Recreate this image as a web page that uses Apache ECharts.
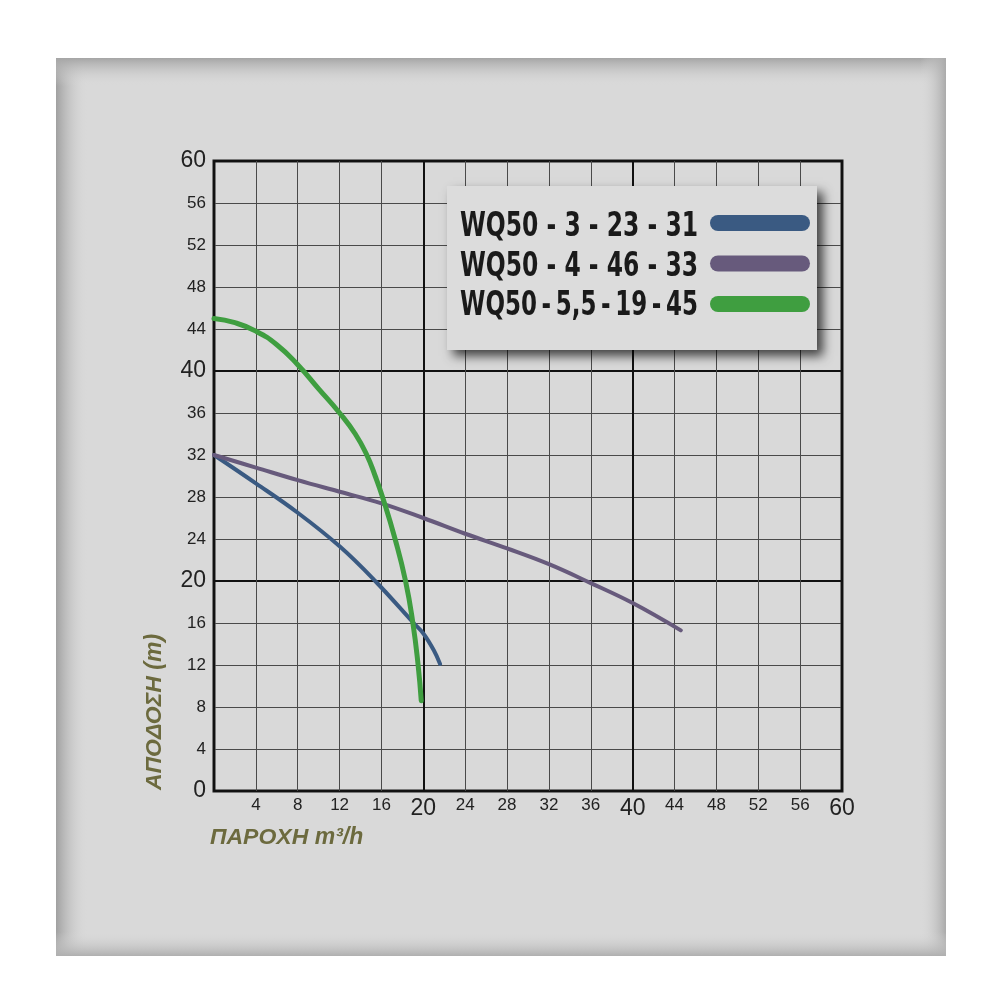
<!DOCTYPE html>
<html>
<head>
<meta charset="utf-8">
<style>html,body{margin:0;padding:0;background:#fff;}#c{width:1000px;height:1000px;}</style>
<script src="https://cdn.jsdelivr.net/npm/echarts@6/dist/echarts.min.js"></script>
</head>
<body>
<div id="c"></div>
<script>
// ---- data ----
const seriesNames = ['WQ50 - 3 - 23 - 31', 'WQ50 - 4 - 46 - 33', 'WQ50\u2009-\u20095,5\u2009-\u200919\u2009-\u200945'];
const blueX = [0, 4, 8, 12, 15.4, 19.07, 20, 21, 21.6];
const blueY = [32, 29.3, 26.5, 23.3, 20, 16, 15.0, 13.4, 12.1];
const purpleX = [0, 4, 8, 12, 16, 20, 24, 28, 32, 36, 40, 44.6];
const purpleY = [32, 30.8, 29.6, 28.5, 27.4, 26.0, 24.5, 23.1, 21.6, 19.8, 17.9, 15.3];
const greenX = [0, 2, 4, 6, 8, 10, 12, 13.5, 14.6, 15.4, 16.1, 17.3, 18.3, 19.0, 19.5, 19.8];
const greenY = [45, 44.6, 43.8, 42.5, 40.6, 38.3, 36, 34, 32, 30, 28, 24, 20, 16, 12, 8.6];
const xName = 'ΠΑΡΟΧΗ m³/h';
const yName = 'ΑΠΟΔΟΣΗ (m)';
const colors = ['#3a5a82', '#675a7c', '#3f9e40'];

function pairs(xs, ys) { return xs.map((x, i) => [x, ys[i]]); }

const chart = echarts.init(document.getElementById('c'), null, {renderer: 'canvas'});
const labelRich = {
  a: {fontSize: 17, color: '#222', fontFamily: 'Liberation Sans, Arial, sans-serif'},
  b: {fontSize: 23, color: '#222', fontFamily: 'Liberation Sans, Arial, sans-serif'}
};
function fmt(hideZero) {
  return function (v) {
    if (hideZero && v === 0) return '';
    return v % 20 === 0 ? '{b|' + v + '}' : '{a|' + v + '}';
  };
}

// legend drawn as graphic (condensed bold text)
const legendFont = 'bold 34px "DejaVu Sans Condensed", "DejaVu Sans", sans-serif';
const mctx = document.createElement('canvas').getContext('2d');
mctx.font = legendFont;
const legendBox = {x: 447, y: 186, w: 370, h: 164};
const rowY = [226, 266, 305];
const swY = [223, 263.5, 304];
const textTargetW = 238;
const legendGraphics = [
  {type: 'rect', z: 20, shape: {x: legendBox.x, y: legendBox.y, width: legendBox.w, height: legendBox.h},
    style: {fill: '#dcdcdc', shadowBlur: 10, shadowOffsetX: 6, shadowOffsetY: 6, shadowColor: 'rgba(0,0,0,0.7)'}}
];
seriesNames.forEach((name, i) => {
  const w = mctx.measureText(name).width;
  legendGraphics.push({type: 'text', z: 21, x: 460, y: rowY[i] + 1, scaleX: textTargetW / w,
    style: {text: name, font: legendFont, fill: '#1a1a1a', textAlign: 'left', textVerticalAlign: 'middle'}});
  legendGraphics.push({type: 'rect', z: 21, shape: {x: 710, y: swY[i] - 8, width: 100, height: 16, r: 8},
    style: {fill: colors[i]}});
});

const option = {
  backgroundColor: '#ffffff',
  animation: false,
  graphic: [
    {type: 'rect', z: -10, shape: {x: 56, y: 58, width: 890, height: 898}, style: {fill: '#d9d9d9'}},
    {type: 'rect', z: -9, shape: {x: 56, y: 58, width: 32, height: 898},
      style: {fill: new echarts.graphic.LinearGradient(0, 0, 1, 0, [{offset: 0, color: 'rgba(160,160,160,1)'}, {offset: 1, color: 'rgba(217,217,217,0)'}])}},
    {type: 'rect', z: -9, shape: {x: 56, y: 58, width: 890, height: 28},
      style: {fill: new echarts.graphic.LinearGradient(0, 0, 0, 1, [{offset: 0, color: 'rgba(165,165,165,1)'}, {offset: 1, color: 'rgba(217,217,217,0)'}])}},
    {type: 'rect', z: -9, shape: {x: 920, y: 58, width: 26, height: 898},
      style: {fill: new echarts.graphic.LinearGradient(1, 0, 0, 0, [{offset: 0, color: 'rgba(170,170,170,1)'}, {offset: 1, color: 'rgba(217,217,217,0)'}])}},
    {type: 'rect', z: -9, shape: {x: 56, y: 932, width: 890, height: 24},
      style: {fill: new echarts.graphic.LinearGradient(0, 1, 0, 0, [{offset: 0, color: 'rgba(175,175,175,1)'}, {offset: 1, color: 'rgba(217,217,217,0)'}])}},
    {type: 'text', z: 10, x: 155, y: 712, rotation: Math.PI / 2,
      style: {text: yName, fill: '#6c6a3e', font: 'italic bold 23px "Liberation Sans", Arial, sans-serif', textAlign: 'center', textVerticalAlign: 'middle'}},
    {type: 'text', z: 10, x: 210, y: 838,
      style: {text: xName, fill: '#6c6a3e', font: 'italic bold 23px "Liberation Sans", Arial, sans-serif', textAlign: 'left', textVerticalAlign: 'middle'}}
  ].concat(legendGraphics),
  grid: {left: 214, right: 158, top: 161, bottom: 209, show: true, borderColor: '#1a1a1a', borderWidth: 3, backgroundColor: 'transparent'},
  xAxis: [
    {type: 'value', min: 0, max: 60, interval: 4,
      axisLine: {show: false}, axisTick: {show: false},
      splitLine: {show: true, lineStyle: {color: '#4a4a4a', width: 1}},
      axisLabel: {formatter: fmt(true), rich: labelRich, margin: 6}},
    {type: 'value', min: 0, max: 60, interval: 20, position: 'bottom',
      axisLine: {show: false}, axisTick: {show: false}, axisLabel: {show: false},
      splitLine: {show: true, lineStyle: {color: '#111', width: 2}}}
  ],
  yAxis: [
    {type: 'value', min: 0, max: 60, interval: 4,
      axisLine: {show: false}, axisTick: {show: false},
      splitLine: {show: true, lineStyle: {color: '#4a4a4a', width: 1}},
      axisLabel: {formatter: fmt(false), rich: labelRich, margin: 8}},
    {type: 'value', min: 0, max: 60, interval: 20, position: 'left',
      axisLine: {show: false}, axisTick: {show: false}, axisLabel: {show: false},
      splitLine: {show: true, lineStyle: {color: '#111', width: 2}}}
  ],
  series: [
    {name: seriesNames[0], type: 'line', data: pairs(blueX, blueY), smooth: 0.4, symbol: 'none', color: colors[0],
      lineStyle: {width: 4, color: colors[0], cap: 'round'}, z: 3},
    {name: seriesNames[1], type: 'line', data: pairs(purpleX, purpleY), smooth: 0.4, symbol: 'none', color: colors[1],
      lineStyle: {width: 4, color: colors[1], cap: 'round'}, z: 3},
    {name: seriesNames[2], type: 'line', data: pairs(greenX, greenY), smooth: 0.5, symbol: 'none', color: colors[2],
      lineStyle: {width: 5, color: colors[2], cap: 'round'}, z: 4}
  ]
};
chart.setOption(option);
</script>
</body>
</html>
